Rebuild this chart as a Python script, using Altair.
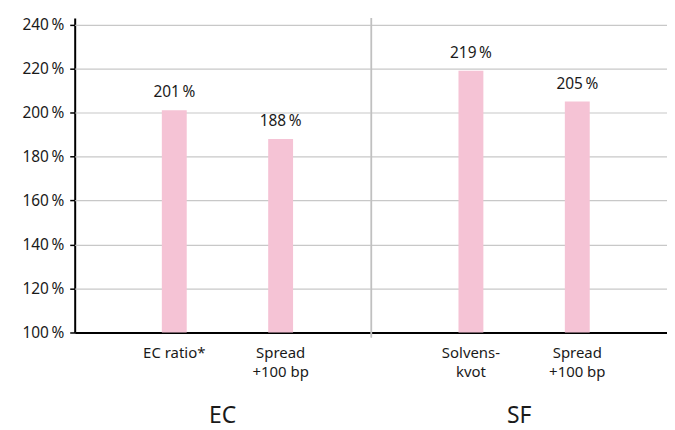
import altair as alt
import pandas as pd

groups = ["EC", "EC", "SF", "SF"]
categories = ["EC ratio*", "Spread|+100 bp", "Solvens-|kvot", "Spread|+100 bp"]
order = [0, 1, 0, 1]
values = [201, 188, 219, 205]
y_ticks = [100, 120, 140, 160, 180, 200, 220, 240]

df = pd.DataFrame({"group": groups, "cat": categories, "idx": order, "value": values})

FONT = "Noto Sans"
PINK = "#f5c3d5"
W = 297
H = 316

x_enc = alt.X(
    "cat:N",
    sort=alt.SortField("idx"),
    scale=alt.Scale(paddingInner=0.766, paddingOuter=0.773, align=0.53),
    axis=alt.Axis(
        title=None,
        labelAngle=0,
        labelExpr="split(datum.label, '|')",
        labelFont=FONT,
        labelFontSize=15,
        labelColor="#1a1a1a",
        labelLineHeight=19,
        labelPadding=13,
        ticks=False,
        domainColor="#000000",
        domainWidth=2,
        grid=False,
    ),
)

y_enc = alt.Y(
    "value:Q",
    scale=alt.Scale(domain=[100, 243], nice=False, zero=False),
    axis=alt.Axis(
        title=None,
        values=y_ticks,
        labelExpr="datum.value + '\u2009%'",
        labelFont=FONT,
        labelFontSize=15.5,
        labelColor="#1a1a1a",
        labelPadding=6,
        tickSize=5,
        tickColor="#000000",
        tickWidth=1.5,
        domainColor="#000000",
        domainWidth=2,
        gridColor="#c8c8c8",
        gridWidth=1.2,
    ),
)

bars = alt.Chart().mark_bar(color=PINK).encode(x=x_enc, y=y_enc, y2=alt.datum(100))

labels = (
    alt.Chart()
    .transform_calculate(lbl="format(datum.value, 'd') + '\u2009%'")
    .mark_text(baseline="bottom", dy=-10, font=FONT, fontSize=15.5, color="#1a1a1a")
    .encode(x=alt.X("cat:N", sort=alt.SortField("idx")), y="value:Q", text="lbl:N")
)

sep = (
    alt.Chart()
    .transform_filter("datum.group == 'SF'")
    .mark_rule(color="#c0c0c0", strokeWidth=1.5)
    .encode(x=alt.value(0), y=alt.value(0), y2=alt.value(H + 5))
)

layered = alt.layer(sep, bars, labels, data=df).properties(width=W, height=H)

chart = (
    layered.facet(
        column=alt.Column(
            "group:N",
            title=None,
            header=alt.Header(
                labelOrient="bottom",
                labelFont=FONT,
                labelFontSize=23,
                labelColor="#1a1a1a",
                labelPadding=26,
            ),
        ),
        spacing=0,
    )
    .resolve_scale(x="independent")
    .properties(padding={"left": 13, "top": 8, "right": 0, "bottom": 2})
    .configure_view(strokeWidth=0)
)

chart.save("out.html", embed_options={"renderer": "svg", "actions": False})
